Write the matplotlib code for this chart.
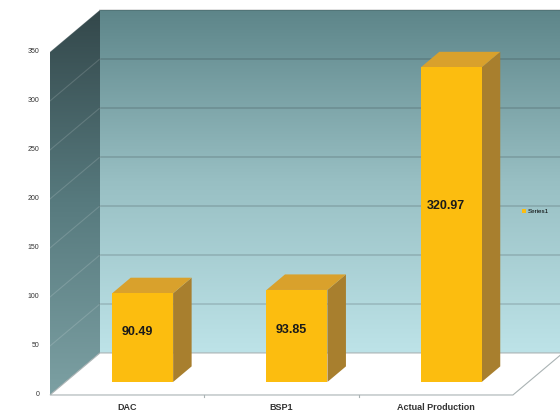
import numpy as np
import matplotlib.pyplot as plt
from matplotlib.patches import Polygon, Patch
from matplotlib.colors import LinearSegmentedColormap

plt.rcParams["font.family"] = ["Liberation Sans", "DejaVu Sans"]

categories = ["DAC", "BSP1", "Actual Production"]
values = [90.49, 93.85, 320.97]
y_ticks = [0, 50, 100, 150, 200, 250, 300, 350]
series_name = "Series1"

# depth of the 3d box, in category units / value units
DX = 0.324
DY = 42.9
YMAX = 350


def proj(u, v, d):
    return (u + d * DX, v + d * DY)


fig = plt.figure(figsize=(5.6, 4.19), dpi=100)
ax = fig.add_axes([0, 0, 1, 1])
ax.set_axis_off()
xlim = (-0.824, 2.805)
ylim = (-24.5, 403)

left, right = -0.5, len(categories) - 0.5

# back wall with vertical gradient
back_cmap = LinearSegmentedColormap.from_list("back", ["#bde3e8", "#98bfc3", "#5d8589"])
grad = np.linspace(0, 1, 256).reshape(-1, 1)
back_poly = Polygon([proj(left, 0, 1), proj(right, 0, 1), proj(right, YMAX, 1), proj(left, YMAX, 1)],
                    closed=True, facecolor="none", edgecolor="none")
ax.add_patch(back_poly)
bx0, by0 = proj(left, 0, 1)
bx1, by1 = proj(right, YMAX, 1)
im = ax.imshow(grad, cmap=back_cmap, origin="lower", extent=(bx0, bx1, by0, by1),
               aspect="auto", zorder=1)
im.set_clip_path(back_poly)

# left wall
left_cmap = LinearSegmentedColormap.from_list("left", ["#7ca0a3", "#577a7e", "#33474a"])
left_poly = Polygon([proj(left, 0, 0), proj(left, 0, 1), proj(left, YMAX, 1), proj(left, YMAX, 0)],
                    closed=True, facecolor="none", edgecolor="none")
ax.add_patch(left_poly)
lx0, ly0 = proj(left, 0, 0)
lx1, ly1 = proj(left, YMAX, 1)
im2 = ax.imshow(grad, cmap=left_cmap, origin="lower", extent=(lx0, lx1, ly0, ly1),
                aspect="auto", zorder=1)
im2.set_clip_path(left_poly)

# gridlines
for v in y_ticks[1:]:
    p0, p1 = proj(left, v, 1), proj(right, v, 1)
    ax.plot([p0[0], p1[0]], [p0[1], p1[1]], color="black", alpha=0.14, lw=1.2, zorder=2)
    q0 = proj(left, v, 0)
    ax.plot([q0[0], p0[0]], [q0[1], p0[1]], color="white", alpha=0.15, lw=0.8, zorder=2)

# floor
floor = Polygon([proj(left, 0, 0), proj(right, 0, 0), proj(right, 0, 1), proj(left, 0, 1)],
                closed=True, facecolor="white", edgecolor="#aab3b4", lw=0.8, zorder=2)
ax.add_patch(floor)
for i in range(1, len(categories)):
    ax.plot([i - 0.5, i - 0.5], [0, -2.5], color="#aab3b4", lw=0.8, zorder=2)

# bars
bw = 0.395
d0, d1 = 0.31, 0.68
for i, val in enumerate(values):
    xa, xb = i - bw / 2, i + bw / 2
    side = [proj(xb, 0, d0), proj(xb, 0, d1), proj(xb, val, d1), proj(xb, val, d0)]
    top = [proj(xa, val, d0), proj(xb, val, d0), proj(xb, val, d1), proj(xa, val, d1)]
    front = [proj(xa, 0, d0), proj(xb, 0, d0), proj(xb, val, d0), proj(xa, val, d0)]
    ax.add_patch(Polygon(side, closed=True, facecolor="#a87f2e", edgecolor="none", zorder=3))
    ax.add_patch(Polygon(top, closed=True, facecolor="#d9a12c", edgecolor="none", zorder=3))
    ax.add_patch(Polygon(front, closed=True, facecolor="#fcbd0f", edgecolor="none", zorder=4))
    lx, ly = proj(i - 0.035, val * 0.56, d0)
    ax.text(lx, ly, f"{val:.2f}", ha="center", va="center", fontsize=9,
            fontweight="bold", color="#1a1a1a", zorder=5)

# tick labels
for v in y_ticks:
    ax.text(left - 0.07, v, str(v), ha="right", va="center", fontsize=5, color="#333333")
for i, c in enumerate(categories):
    ax.text(i, -12.5, c, ha="center", va="center", fontsize=6.5, fontweight="bold", color="#333333")

ax.legend(handles=[Patch(facecolor="#fcbd0f", edgecolor="none", label=series_name)],
          loc="center left", bbox_to_anchor=(0.922, 0.495), frameon=False, fontsize=4.5,
          handlelength=0.7, handleheight=0.7, handletextpad=0.3)

ax.set_xlim(*xlim)
ax.set_ylim(*ylim)
fig.savefig("out.png", dpi=100, facecolor="white")
